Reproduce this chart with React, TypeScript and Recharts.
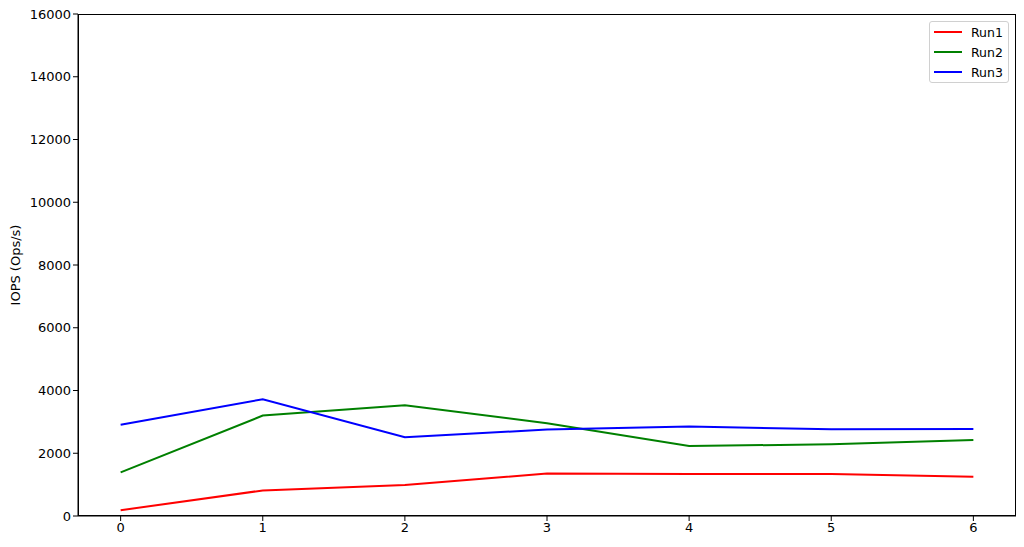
import { LineChart, Line, XAxis, YAxis } from 'recharts';

const steps = [0, 1, 2, 3, 4, 5, 6];
const run1 = [185, 815, 990, 1355, 1335, 1340, 1250];
const run2 = [1390, 3200, 3530, 2955, 2230, 2285, 2420];
const run3 = [2910, 3720, 2510, 2755, 2850, 2765, 2775];
const yTicks = [0, 2000, 4000, 6000, 8000, 10000, 12000, 14000, 16000];

const series = [
  { key: 'Run1', color: '#ff0000' },
  { key: 'Run2', color: '#008000' },
  { key: 'Run3', color: '#0000ff' },
];

const data = steps.map((s, i) => ({ step: s, Run1: run1[i], Run2: run2[i], Run3: run3[i] }));

const font = '"DejaVu Sans", sans-serif';

const LegendBox = () => (
  <div
    style={{
      position: 'absolute',
      left: 929,
      top: 21,
      width: 80,
      height: 62,
      boxSizing: 'border-box',
      background: 'rgba(255,255,255,0.8)',
      border: '1px solid #d0d0d0',
      borderRadius: 3,
      padding: '0px 0 0 4px',
      fontFamily: font,
      fontSize: 12.5,
      color: '#000',
    }}
  >
    {series.map((s) => (
      <div key={s.key} style={{ display: 'flex', alignItems: 'center', height: 20 }}>
        <span style={{ width: 28, height: 2, background: s.color, marginRight: 9 }} />
        <span>{s.key}</span>
      </div>
    ))}
  </div>
);

const tickStyle = { fill: '#000', fontSize: 13, fontFamily: font };

export default function App() {
  return (
    <div style={{ position: 'absolute', left: 0, top: 0, width: 1024, height: 547, background: '#fff' }}>
      <LineChart width={1024} height={547} data={data} margin={{ top: 14, right: 8, bottom: 0, left: 0 }}>
        <XAxis
          dataKey="step"
          type="number"
          domain={[-0.3, 6.3]}
          ticks={steps}
          tick={tickStyle}
          tickLine={{ stroke: '#000' }}
          tickSize={5}
          axisLine={{ stroke: '#000' }}
          height={31}
          allowDataOverflow
        />
        <YAxis
          domain={[0, 16000]}
          ticks={yTicks}
          tick={tickStyle}
          tickLine={{ stroke: '#000' }}
          tickSize={5}
          axisLine={{ stroke: '#000' }}
          width={78}
          allowDataOverflow
        />
        {series.map((s) => (
          <Line
            key={s.key}
            dataKey={s.key}
            stroke={s.color}
            strokeWidth={2}
            dot={false}
            type="linear"
            isAnimationActive={false}
          />
        ))}
      </LineChart>
      <div
        style={{
          position: 'absolute',
          left: 78,
          top: 14,
          width: 938,
          height: 502,
          boxSizing: 'border-box',
          border: '1px solid #000',
          pointerEvents: 'none',
        }}
      />
      <LegendBox />
      <div
        style={{
          position: 'absolute',
          left: 15,
          top: 265,
          transform: 'translate(-50%, -50%) rotate(-90deg)',
          fontFamily: font,
          fontSize: 13,
          whiteSpace: 'nowrap',
          color: '#000',
        }}
      >
        IOPS (Ops/s)
      </div>
    </div>
  );
}
